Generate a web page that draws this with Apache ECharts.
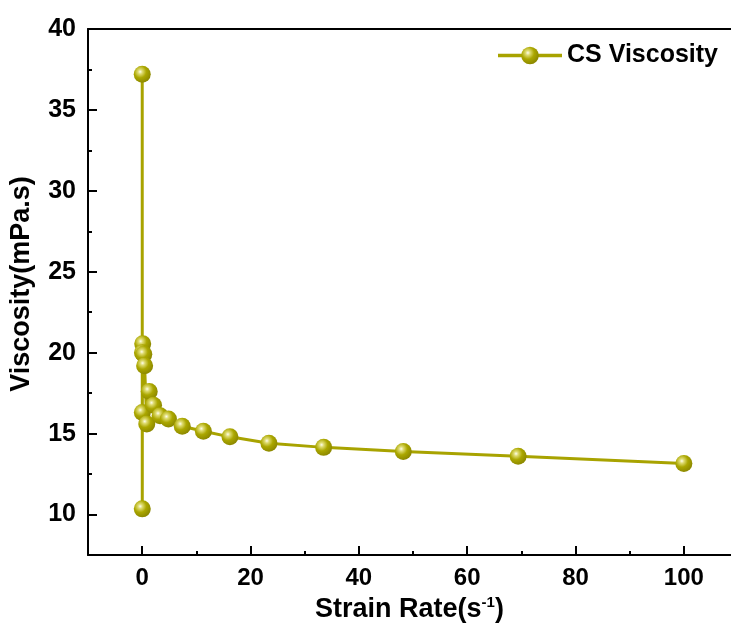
<!DOCTYPE html>
<html>
<head>
<meta charset="utf-8">
<script src="https://cdn.jsdelivr.net/npm/echarts@6/dist/echarts.min.js"></script>
<style>
  html, body { margin: 0; padding: 0; background: #fff; }
  #chart { width: 731px; height: 635px; }
</style>
</head>
<body>
<div id="chart"></div>
<script>
// Shear sweep of the CS solution: strain rate (1/s) vs viscosity (mPa.s)
const strainRate = [0.01, 0.02, 0.03, 0.1, 0.05, 0.3, 0.45, 0.85, 1.3, 2.1, 3.3, 4.85, 7.4, 11.3, 16.2, 23.4, 33.5, 48.2, 69.4, 100];
const viscosity  = [37.2, 10.35, 16.3, 20.55, 20.0, 19.9, 19.2, 15.6, 17.6, 16.75, 16.1, 15.9, 15.45, 15.15, 14.8, 14.4, 14.15, 13.9, 13.6, 13.15];

const xMajorTicks = [0, 20, 40, 60, 80, 100];
const xMinorTicks = [10, 30, 50, 70, 90];
const yMajorTicks = [10, 15, 20, 25, 30, 35, 40];
const yMinorTicks = [12.5, 17.5, 22.5, 27.5, 32.5, 37.5];

const seriesName = 'CS Viscosity';
const olive = '#a8a300';
const font = "'Liberation Sans', Arial, sans-serif";

const chart = echarts.init(document.getElementById('chart'));

const ball = new echarts.graphic.RadialGradient(0.38, 0.35, 0.65, [
  { offset: 0, color: '#fdfdee' },
  { offset: 0.2, color: '#dedb70' },
  { offset: 0.55, color: '#aba700' },
  { offset: 1, color: '#8d8900' }
]);

// the frame runs off the right edge of the canvas
const xRange = { min: -10, max: 108.7 };
const yRange = { min: 7.5, max: 40 };

const tickLine = { color: '#000', width: 2 };

chart.setOption({
  animation: false,
  backgroundColor: '#fff',
  grid: { left: 88, top: 29, right: 0, bottom: 80 },
  legend: {
    right: 8, top: 38,
    itemWidth: 64, itemHeight: 22, itemGap: 5,
    lineStyle: { width: 3.5 },
    textStyle: { fontFamily: font, fontWeight: 'bold', fontSize: 25, color: '#000' },
    data: [seriesName]
  },
  xAxis: [
    {
      type: 'value', ...xRange, position: 'bottom',
      name: 'Strain Rate(s{sup|-1})', nameLocation: 'middle', nameGap: 37,
      nameTextStyle: {
        fontFamily: font, fontWeight: 'bold', fontSize: 27, color: '#000',
        rich: { sup: { fontFamily: font, fontWeight: 'bold', fontSize: 15, verticalAlign: 'top', padding: [0, 0, 14, 0], color: '#000' } }
      },
      axisLine: { show: true, onZero: false, lineStyle: { color: '#000', width: 2 } },
      axisTick: { show: true, inside: true, length: 9, lineStyle: tickLine, customValues: xMajorTicks },
      axisLabel: { show: true, margin: 11, fontFamily: font, fontWeight: 'bold', fontSize: 24, color: '#000', customValues: xMajorTicks },
      splitLine: { show: false }
    },
    {
      type: 'value', ...xRange, position: 'bottom',
      axisLine: { show: false, onZero: false },
      axisTick: { show: true, inside: true, length: 4, lineStyle: tickLine, customValues: xMinorTicks },
      axisLabel: { show: false },
      splitLine: { show: false }
    },
    {
      type: 'value', ...xRange, position: 'top',
      axisLine: { show: true, onZero: false, lineStyle: { color: '#000', width: 2 } },
      axisTick: { show: false }, axisLabel: { show: false }, splitLine: { show: false }
    }
  ],
  yAxis: [
    {
      type: 'value', ...yRange, position: 'left',
      name: 'Viscosity(mPa.s)', nameLocation: 'middle', nameGap: 53,
      nameTextStyle: { fontFamily: font, fontWeight: 'bold', fontSize: 27, color: '#000', padding: [0, 0, 0, 16] },
      axisLine: { show: true, onZero: false, lineStyle: { color: '#000', width: 2 } },
      axisTick: { show: true, inside: true, length: 9, lineStyle: tickLine, customValues: yMajorTicks },
      axisLabel: { show: true, margin: 12, fontFamily: font, fontWeight: 'bold', fontSize: 25, color: '#000', customValues: yMajorTicks },
      splitLine: { show: false }
    },
    {
      type: 'value', ...yRange, position: 'left',
      axisLine: { show: false, onZero: false },
      axisTick: { show: true, inside: true, length: 4, lineStyle: tickLine, customValues: yMinorTicks },
      axisLabel: { show: false },
      splitLine: { show: false }
    }
  ],
  series: [{
    name: seriesName,
    type: 'line',
    xAxisIndex: 0, yAxisIndex: 0,
    data: strainRate.map((x, i) => [x, viscosity[i]]),
    symbol: 'circle',
    symbolSize: 17,
    showAllSymbol: true,
    lineStyle: { color: olive, width: 3 },
    itemStyle: { color: ball, borderWidth: 0 },
    emphasis: { disabled: true }
  }]
});
</script>
</body>
</html>
